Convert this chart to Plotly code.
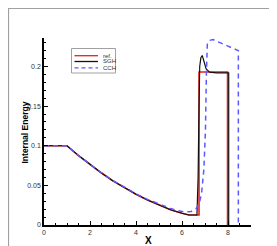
import plotly.graph_objects as go

# ---- data ----
ref_x = [0.0, 1.0, 1.5, 2.0, 2.5, 3.0, 3.5, 4.0, 4.5, 5.0, 5.5, 6.0, 6.3, 6.74, 6.74, 7.98, 7.98]
ref_e = [0.1, 0.1, 0.0876, 0.0762, 0.0656, 0.0556, 0.0468, 0.0388, 0.0315, 0.0250, 0.0192, 0.0148, 0.0126, 0.0126, 0.193, 0.193, 0.0]

sgh_x = [0.0, 1.0, 1.5, 2.0, 2.5, 3.0, 3.5, 4.0, 4.5, 5.0, 5.5, 6.0, 6.3, 6.65, 6.7, 6.74, 6.77, 6.82, 6.88, 6.95, 7.05, 7.2, 7.5, 8.03, 8.03]
sgh_e = [0.1, 0.1, 0.0876, 0.0762, 0.0656, 0.0556, 0.0468, 0.0388, 0.0315, 0.0250, 0.0192, 0.0148, 0.0126, 0.0126, 0.06, 0.15, 0.200, 0.211, 0.214, 0.207, 0.197, 0.193, 0.192, 0.192, 0.0]

cch_x = [0.0, 1.0, 1.5, 2.0, 2.5, 3.0, 3.5, 4.0, 4.5, 5.0, 5.5, 5.8, 6.1, 6.4, 6.6, 6.75, 6.85, 6.95, 7.02, 7.06, 7.1, 7.2, 7.35, 8.45, 8.45]
cch_e = [0.1, 0.1, 0.0876, 0.0762, 0.0658, 0.0560, 0.0472, 0.0394, 0.0323, 0.0262, 0.0210, 0.0182, 0.0166, 0.0170, 0.020, 0.027, 0.040, 0.070, 0.120, 0.190, 0.228, 0.233, 0.234, 0.220, 0.0]

x_ticks = [0, 2, 4, 6, 8]
y_ticks = [0, 0.05, 0.1, 0.15, 0.2]
y_tick_text = ["0", "0.05", "0.1", "0.15", "0.2"]

names = ["ref.", "SGH", "CCH"]
colors = ["#e8201c", "#111111", "#5a5aff"]

# ---- figure ----
W, H = 277, 246
L, R, T, B = 36, 34, 30, 29
pw, ph = W - L - R, H - T - B

def px(x):
    return (x - L) / pw

def py(y):
    return (H - B - y) / ph

fig = go.Figure()
fig.add_trace(go.Scatter(x=ref_x, y=ref_e, mode="lines", name=names[0],
                         line=dict(color=colors[0], width=1.6)))
fig.add_trace(go.Scatter(x=sgh_x, y=sgh_e, mode="lines", name=names[1],
                         line=dict(color=colors[1], width=1.2)))
fig.add_trace(go.Scatter(x=cch_x, y=cch_e, mode="lines", name=names[2],
                         line=dict(color=colors[2], width=1.5, dash="5px,4px")))

axis_common = dict(
    showgrid=False, zeroline=False, showline=True, linecolor="black", linewidth=1.5,
    ticks="inside", ticklen=4, tickwidth=1, tickcolor="black",
    tickfont=dict(family="Liberation Sans, Arial", size=7, color="#333333"),
    mirror=False,
)
fig.update_xaxes(range=[0, 9], tickvals=x_ticks,
                 minor=dict(dtick=0.5, ticks="inside", ticklen=2, tickcolor="black"),
                 **axis_common)
fig.update_yaxes(range=[0, 0.236], tickvals=y_ticks, ticktext=y_tick_text,
                 minor=dict(dtick=0.01, ticks="inside", ticklen=2, tickcolor="black"),
                 **axis_common)

shapes = []
annotations = []
# axis titles
annotations.append(dict(text="<b>X</b>", x=px(140), y=py(232), xref="paper", yref="paper",
                        showarrow=False, font=dict(family="Liberation Sans, Arial", size=10, color="black"),
                        xanchor="center", yanchor="middle"))
annotations.append(dict(text="<b>Internal Energy</b>", x=px(16), y=py(124.5), xref="paper", yref="paper",
                        showarrow=False, textangle=-90,
                        font=dict(family="Liberation Sans, Arial", size=8.5, color="black"),
                        xanchor="center", yanchor="middle"))

# manual legend
shapes.append(dict(type="rect", xref="paper", yref="paper",
                   x0=px(63.5), x1=px(107.5), y0=py(65), y1=py(40.5),
                   line=dict(color="#a0a0a0", width=1), fillcolor="white", layer="above"))
rows = [47.7, 53.5, 59.8]
dashes = ["solid", "solid", "4px,3px"]
for name, col, yy, dsh in zip(names, colors, rows, dashes):
    shapes.append(dict(type="line", xref="paper", yref="paper",
                       x0=px(66.5), x1=px(90), y0=py(yy), y1=py(yy),
                       line=dict(color=col, width=1.3, dash=dsh), layer="above"))
    annotations.append(dict(text=name, x=px(93), y=py(yy), xref="paper", yref="paper",
                            showarrow=False, xanchor="left", yanchor="middle",
                            font=dict(family="Liberation Sans, Arial", size=6, color="#333333")))

# outer frame
shapes.append(dict(type="rect", xref="paper", yref="paper",
                   x0=px(0.5), x1=px(274), y0=py(243), y1=py(0.5),
                   line=dict(color="#a0a0a0", width=1.2), layer="above"))

fig.update_layout(
    width=W, height=H,
    margin=dict(l=L, r=R, t=T, b=B, pad=0),
    paper_bgcolor="white", plot_bgcolor="white",
    showlegend=False,
    shapes=shapes, annotations=annotations,
)

fig.write_html("out.html")
